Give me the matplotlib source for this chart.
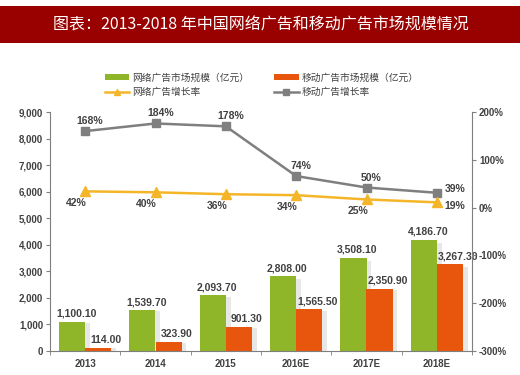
import numpy as np
import matplotlib.pyplot as plt
import matplotlib.patches as patches
from matplotlib.lines import Line2D

plt.rcParams['font.family'] = ['Liberation Sans', 'Noto Sans CJK SC', 'DejaVu Sans']

years = ['2013', '2014', '2015', '2016E', '2017E', '2018E']
web_size = [1100.10, 1539.70, 2093.70, 2808.00, 3508.10, 4186.70]
mobile_size = [114.00, 323.90, 901.30, 1565.50, 2350.90, 3267.30]
web_growth = [42, 40, 36, 34, 25, 19]
mobile_growth = [168, 184, 178, 74, 50, 39]

GREEN = '#8fb629'
ORANGE = '#e8560d'
YELLOW = '#f5b528'
GRAY = '#7f7f7f'
TXT = '#404040'

fig = plt.figure(figsize=(5.2, 3.75), dpi=100)

# title band
fig.patches.append(patches.Rectangle((0, 1 - 43 / 375), 1, 37 / 375, transform=fig.transFigure,
                                     facecolor='#990000', edgecolor='none'))
fig.text(0.502, 1 - 25 / 375, '图表：2013-2018 年中国网络广告和移动广告市场规模情况',
         color='white', fontsize=11.5, ha='center', va='center', family=['Noto Sans CJK SC'])

ax = fig.add_axes([50 / 520, 24 / 375, 422 / 520, 239 / 375])
x = np.arange(len(years))
w = 0.37

# bar shadows
for i in range(len(years)):
    for off, h in ((-w / 2, web_size[i]), (w / 2, mobile_size[i])):
        ax.add_patch(patches.Rectangle((x[i] + off - w / 2 + 0.07, 0), w, h * 0.97,
                                       facecolor='#d4d4d4', edgecolor='none', alpha=0.55, zorder=1))

ax.bar(x - w / 2, web_size, w, color=GREEN, zorder=2)
ax.bar(x + w / 2, mobile_size, w, color=ORANGE, zorder=2)

for i in range(len(years)):
    ax.annotate(f'{web_size[i]:,.2f}', (x[i] - w / 2, web_size[i]), xytext=(4, 3),
                textcoords='offset pixels', ha='center', va='bottom', fontsize=7.5,
                fontweight='bold', color=TXT, zorder=5)
    ax.annotate(f'{mobile_size[i]:,.2f}', (x[i] + w / 2, mobile_size[i]), xytext=(8, 3),
                textcoords='offset pixels', ha='center', va='bottom', fontsize=7.5,
                fontweight='bold', color=TXT, zorder=5)

ax.set_xlim(-0.5, len(years) - 0.5)
ax.set_ylim(0, 9000)
ax.set_yticks(np.arange(0, 9001, 1000))
ax.set_yticklabels([f'{v:,}' for v in range(0, 9001, 1000)])
ax.set_xticks(x)
ax.set_xticklabels(years)
ax.set_xticks(np.arange(-0.5, len(years), 1), minor=True)
ax.tick_params(axis='x', which='major', length=0, pad=6)
ax.tick_params(axis='x', which='minor', length=3, color=GRAY)
ax.tick_params(axis='y', length=3, color=GRAY, pad=2)
for lab in ax.get_xticklabels() + ax.get_yticklabels():
    lab.set_fontsize(7)
    lab.set_fontweight('bold')
    lab.set_color(TXT)
for s in ('top', 'right'):
    ax.spines[s].set_visible(False)
for s in ('left', 'bottom'):
    ax.spines[s].set_color(GRAY)

ax2 = ax.twinx()
ax2.set_ylim(-300, 200)
ax2.set_yticks(np.arange(-300, 201, 100))
ax2.set_yticklabels([f'{v}%' for v in range(-300, 201, 100)])
ax2.tick_params(axis='y', length=3, color=GRAY, pad=2)
for lab in ax2.get_yticklabels():
    lab.set_fontsize(7)
    lab.set_fontweight('bold')
    lab.set_color(TXT)
for s in ('top', 'left', 'bottom'):
    ax2.spines[s].set_visible(False)
ax2.spines['right'].set_color(GRAY)

# growth lines on a hidden axis, slightly shifted like the original
ax3 = ax.twinx()
ax3.set_ylim(-292, 208)
ax3.axis('off')
ax3.plot(x, mobile_growth, color=GRAY, lw=1.8, marker='s', ms=6, zorder=4)
ax3.plot(x, web_growth, color=YELLOW, lw=1.8, marker='^', ms=7.5, zorder=4)
for i in range(len(years)):
    if i < len(years) - 1:
        ax3.annotate(f'{mobile_growth[i]}%', (x[i], mobile_growth[i]), xytext=(5, 10),
                     textcoords='offset pixels', ha='center', va='center', fontsize=7.5,
                     fontweight='bold', color=TXT)
        ax3.annotate(f'{web_growth[i]}%', (x[i], web_growth[i]), xytext=(-9, -12),
                     textcoords='offset pixels', ha='center', va='center', fontsize=7.5,
                     fontweight='bold', color=TXT)
    else:
        ax3.annotate(f'{mobile_growth[i]}%', (x[i], mobile_growth[i]), xytext=(8, 4),
                     textcoords='offset pixels', ha='left', va='center', fontsize=7.5,
                     fontweight='bold', color=TXT)
        ax3.annotate(f'{web_growth[i]}%', (x[i], web_growth[i]), xytext=(8, -4),
                     textcoords='offset pixels', ha='left', va='center', fontsize=7.5,
                     fontweight='bold', color=TXT)

handles = [
    patches.Patch(facecolor=GREEN, edgecolor='none'),
    Line2D([], [], color=YELLOW, lw=1.8, marker='^', ms=5),
    patches.Patch(facecolor=ORANGE, edgecolor='none'),
    Line2D([], [], color=GRAY, lw=1.8, marker='s', ms=4),
]
labels = ['网络广告市场规模（亿元）', '网络广告增长率', '移动广告市场规模（亿元）', '移动广告增长率']
leg = fig.legend(handles, labels, loc='upper left', bbox_to_anchor=(98 / 520, 1 - 66 / 375),
                 ncol=2, frameon=False, prop={'family': 'Noto Sans CJK SC', 'size': 7},
                 handlelength=2.5, handleheight=0.6, handletextpad=0.3, columnspacing=2.6,
                 labelspacing=0.45, borderpad=0.2, labelcolor=TXT)

fig.savefig('out.png', dpi=100, facecolor='white')
